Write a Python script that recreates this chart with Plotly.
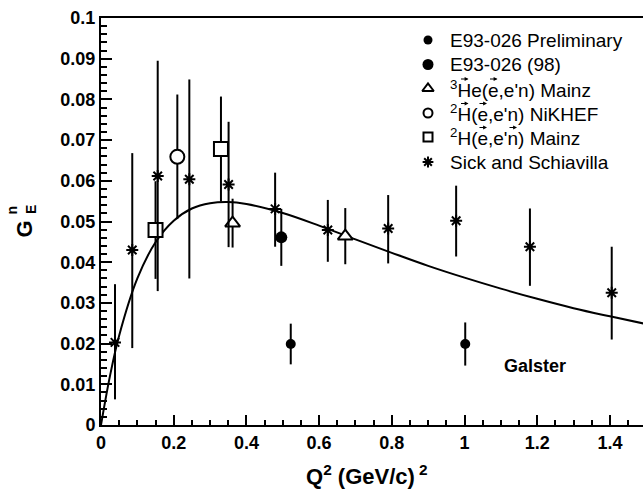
import plotly.graph_objects as go

# ---- data ----
prelim_x = [0.522, 1.002]
prelim_y = [0.0199, 0.0199]
prelim_err = [0.0050, 0.0053]

e98_x = [0.496]
e98_y = [0.0461]
e98_err = [0.0070]

he3_x = [0.362, 0.672]
he3_y = [0.0496, 0.0464]
he3_err = [0.0060, 0.0069]

nik_x = [0.210]
nik_y = [0.0659]
nik_err = [0.0153]

h2m_x = [0.150, 0.330]
h2m_y = [0.0479, 0.0678]
h2m_err = [0.0120, 0.0129]

sick_x = [0.0385, 0.086, 0.156, 0.243, 0.351, 0.479, 0.624, 0.790, 0.977, 1.180, 1.405]
sick_y = [0.0203, 0.0430, 0.0612, 0.0604, 0.0591, 0.0531, 0.0479, 0.0483, 0.0502, 0.0438, 0.0325]
sick_err_plus = [0.0143, 0.0238, 0.0283, 0.0245, 0.0154, 0.0089, 0.0074, 0.0082, 0.0086, 0.0094, 0.0113]
sick_err_minus = [0.0140, 0.0241, 0.0283, 0.0244, 0.0154, 0.0093, 0.0078, 0.0086, 0.0088, 0.0096, 0.0115]

galster_x = [0.0, 0.025, 0.05, 0.1, 0.15, 0.2, 0.25, 0.3, 0.35, 0.4, 0.5, 0.6, 0.7,
             0.8, 0.9, 1.0, 1.1, 1.2, 1.3, 1.4, 1.5]
galster_y = [0.0, 0.0122, 0.0220, 0.0360, 0.0449, 0.0502, 0.0532, 0.0545, 0.0548, 0.0543,
             0.0521, 0.0490, 0.0456, 0.0423, 0.0391, 0.0362, 0.0335, 0.0310, 0.0287, 0.0267, 0.0248]

legend_labels = ["E93-026 Preliminary", "E93-026 (98)", "<sup>3</sup>He(e,e'n) Mainz",
                 "<sup>2</sup>H(e,e'n) NiKHEF", "<sup>2</sup>H(e,e'n) Mainz", "Sick and Schiavilla"]

x_ticks = [0, 0.2, 0.4, 0.6, 0.8, 1.0, 1.2, 1.4]
x_ticktext = ["0", "0.2", "0.4", "0.6", "0.8", "1", "1.2", "1.4"]
y_ticks = [0, 0.01, 0.02, 0.03, 0.04, 0.05, 0.06, 0.07, 0.08, 0.09, 0.1]
y_ticktext = ["0", "0.01", "0.02", "0.03", "0.04", "0.05", "0.06", "0.07", "0.08", "0.09", "0.1"]

FONT = "Liberation Sans"
BLACK = "black"

W, H = 643, 493
L, R, T, B = 101, 0, 18, 68
pw, ph = W - L - R, H - T - B

def px(xp):
    return (xp - L) / pw

def py(yp):
    return (H - B - yp) / ph

def err(arr, arrminus=None):
    d = dict(type="data", array=arr, color=BLACK, thickness=2, width=0, visible=True)
    if arrminus is not None:
        d["symmetric"] = False
        d["arrayminus"] = arrminus
    return d

styles = [
    dict(symbol="circle", size=10, color=BLACK),
    dict(symbol="circle", size=12, color=BLACK),
    dict(symbol="triangle-up", size=13, color="white", line=dict(color=BLACK, width=2)),
    dict(symbol="circle", size=14, color="white", line=dict(color=BLACK, width=2)),
    dict(symbol="square", size=14, color="white", line=dict(color=BLACK, width=2)),
    dict(symbol="asterisk-open", size=10, color=BLACK, line=dict(color=BLACK, width=2)),
]
legend_styles = [
    dict(symbol="circle", size=9, color=BLACK),
    dict(symbol="circle", size=11, color=BLACK),
    dict(symbol="triangle-up", size=10, color="white", line=dict(color=BLACK, width=2)),
    dict(symbol="circle", size=9, color="white", line=dict(color=BLACK, width=2)),
    dict(symbol="square", size=9, color="white", line=dict(color=BLACK, width=2)),
    dict(symbol="asterisk-open", size=9, color=BLACK, line=dict(color=BLACK, width=2)),
]

fig = go.Figure()

fig.add_trace(go.Scatter(x=galster_x, y=galster_y, mode="lines", line=dict(color=BLACK, width=2, shape="spline"),
                         showlegend=False, hoverinfo="skip"))

series = [
    (prelim_x, prelim_y, err(prelim_err)),
    (e98_x, e98_y, err(e98_err)),
    (he3_x, he3_y, err(he3_err)),
    (nik_x, nik_y, err(nik_err)),
    (h2m_x, h2m_y, err(h2m_err)),
    (sick_x, sick_y, err(sick_err_plus, sick_err_minus)),
]
for (sx, sy, se), st, name in zip(series, styles, legend_labels):
    fig.add_trace(go.Scatter(x=sx, y=sy, mode="markers", name=name, marker=st, error_y=se, showlegend=False))

# ---- hand-made legend (pixel coordinates on an overlay axis) ----
row_y = [40, 64.5, 88.5, 113, 137, 162]
sym_x = 428
text_x = 450
for ry, st in zip(row_y, legend_styles):
    fig.add_trace(go.Scatter(x=[sym_x], y=[ry], mode="markers", marker=st, xaxis="x2", yaxis="y2",
                             showlegend=False, hoverinfo="skip"))

annotations = []
for ry, lab in zip(row_y, legend_labels):
    annotations.append(dict(text=lab, x=px(text_x), y=py(ry), xref="paper", yref="paper", showarrow=False,
                            font=dict(family=FONT, size=19, color=BLACK), xanchor="left", yanchor="middle",
                            borderpad=0, borderwidth=0))

# polarisation arrows over letters of the legend labels (pixel centres of letters)
vec_marks = [(464.0, 88.5), (493.0, 88.5), (464.0, 113), (482.5, 113), (482.5, 137), (512.5, 137)]
for (cx, cy) in vec_marks:
    annotations.append(dict(text="", x=px(cx + 4.5), y=py(cy - 9.5), xref="paper", yref="paper",
                            showarrow=True, ax=-9, ay=0, arrowhead=2, arrowsize=0.7, arrowwidth=1.1,
                            arrowcolor=BLACK, standoff=0, startstandoff=0))

annotations += [
    dict(text="<b>Galster</b>", x=1.195, y=0.0145, xref="x", yref="y", showarrow=False,
         font=dict(family=FONT, size=18, color=BLACK), xanchor="center", yanchor="middle"),
    dict(text="<b>Q<sup>2</sup> (GeV/c)<sup> 2</sup></b>", x=px(367), y=py(475), xref="paper", yref="paper",
         showarrow=False, font=dict(family=FONT, size=22, color=BLACK), xanchor="center", yanchor="middle"),
    dict(text="<b>G</b>", x=px(23.5), y=py(229), xref="paper", yref="paper", textangle=-90,
         showarrow=False, font=dict(family=FONT, size=22, color=BLACK), xanchor="center", yanchor="middle"),
    dict(text="<b>n</b>", x=px(11.5), y=py(210), xref="paper", yref="paper", textangle=-90,
         showarrow=False, font=dict(family=FONT, size=14, color=BLACK), xanchor="center", yanchor="middle"),
    dict(text="<b>E</b>", x=px(31), y=py(210), xref="paper", yref="paper", textangle=-90,
         showarrow=False, font=dict(family=FONT, size=14, color=BLACK), xanchor="center", yanchor="middle"),
]

fig.update_layout(
    width=W, height=H,
    margin=dict(l=L, r=R, t=T, b=B, pad=0, autoexpand=False),
    paper_bgcolor="white", plot_bgcolor="white",
    font=dict(family=FONT, color=BLACK),
    showlegend=False,
    annotations=annotations,
    xaxis=dict(range=[0, pw / 363.5], showgrid=False, zeroline=False, automargin=False,
               showline=True, linewidth=2, linecolor=BLACK, mirror=True,
               ticks="inside", ticklen=10, tickwidth=2, tickcolor=BLACK,
               tickvals=x_ticks, ticktext=x_ticktext,
               tickfont=dict(family=FONT, size=18, color=BLACK, weight="bold"),
               minor=dict(ticks="inside", ticklen=5, tickwidth=1.5, tickcolor=BLACK, dtick=0.05, tick0=0, showgrid=False)),
    yaxis=dict(range=[0, 0.1], showgrid=False, zeroline=False, automargin=False,
               showline=True, linewidth=2, linecolor=BLACK, mirror=False,
               ticks="inside", ticklen=11, tickwidth=2, tickcolor=BLACK,
               tickvals=y_ticks, ticktext=y_ticktext,
               tickfont=dict(family=FONT, size=18, color=BLACK, weight="bold"),
               minor=dict(ticks="inside", ticklen=6, tickwidth=1.5, tickcolor=BLACK, dtick=0.002, tick0=0, showgrid=False)),
    xaxis2=dict(overlaying="x", range=[L, W - R], visible=False, fixedrange=True),
    yaxis2=dict(overlaying="y", range=[H - B, T], visible=False, fixedrange=True),
)

fig.write_html("out.html", config={"displayModeBar": False},
               post_script="document.body.style.margin='0';")
